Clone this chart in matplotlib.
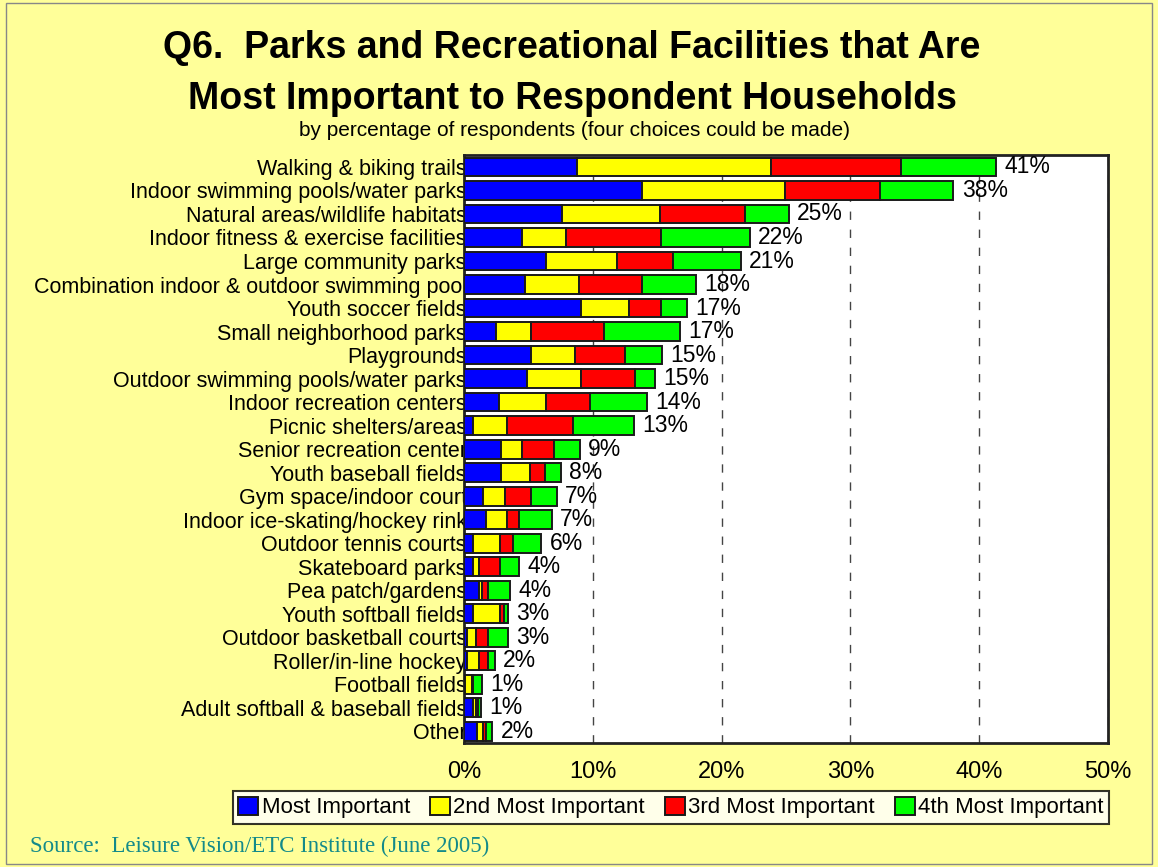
import numpy as np
import matplotlib
matplotlib.use("Agg")
import matplotlib.pyplot as plt
from matplotlib.patches import Rectangle

# ---- data (percent of respondents) ----
categories = [
    "Walking & biking trails",
    "Indoor swimming pools/water parks",
    "Natural areas/wildlife habitats",
    "Indoor fitness & exercise facilities",
    "Large community parks",
    "Combination indoor & outdoor swimming pool",
    "Youth soccer fields",
    "Small neighborhood parks",
    "Playgrounds",
    "Outdoor swimming pools/water parks",
    "Indoor recreation centers",
    "Picnic shelters/areas",
    "Senior recreation center",
    "Youth baseball fields",
    "Gym space/indoor court",
    "Indoor ice-skating/hockey rink",
    "Outdoor tennis courts",
    "Skateboard parks",
    "Pea patch/gardens",
    "Youth softball fields",
    "Outdoor basketball courts",
    "Roller/in-line hockey",
    "Football fields",
    "Adult softball & baseball fields",
    "Other",
]
most = [8.8, 13.8, 7.6, 4.5, 6.4, 4.7, 9.1, 2.5, 5.2, 4.9, 2.7, 0.7, 2.9,
        2.9, 1.5, 1.7, 0.7, 0.7, 1.2, 0.7, 0.2, 0.2, 0.05, 0.7, 1.0]
second = [15.0, 11.1, 7.6, 3.4, 5.5, 4.2, 3.7, 2.7, 3.4, 4.2, 3.7, 2.6, 1.6,
          2.2, 1.7, 1.6, 2.1, 0.5, 0.2, 2.1, 0.7, 1.0, 0.6, 0.2, 0.45]
third = [10.1, 7.4, 6.6, 7.4, 4.3, 4.9, 2.5, 5.7, 3.9, 4.2, 3.4, 5.2, 2.5,
         1.2, 2.0, 1.0, 1.0, 1.6, 0.5, 0.3, 1.0, 0.7, 0.05, 0.2, 0.25]
fourth = [7.4, 5.7, 3.4, 6.9, 5.3, 4.2, 2.0, 5.9, 2.9, 1.5, 4.4, 4.7, 2.0,
          1.2, 2.0, 2.5, 2.2, 1.5, 1.7, 0.3, 1.5, 0.5, 0.7, 0.25, 0.5]
totals = [41, 38, 25, 22, 21, 18, 17, 17, 15, 15, 14, 13, 9, 8, 7, 7, 6, 4,
          4, 3, 3, 2, 1, 1, 2]

series_names = ["Most Important", "2nd Most Important",
                "3rd Most Important", "4th Most Important"]
colors = ["#0000FF", "#FFFF00", "#FF0000", "#00FF00"]

bg = "#FFFF99"
sans = ["Liberation Sans", "DejaVu Sans"]

fig = plt.figure(figsize=(11.58, 8.67), dpi=100, facecolor=bg)
ax = fig.add_axes([0.4007, 0.143, 0.5561, 0.678])
ax.set_facecolor("white")

y = np.arange(len(categories))
left = np.zeros(len(categories))
for vals, c, name in zip([most, second, third, fourth], colors, series_names):
    ax.barh(y, vals, left=left, height=0.8, color=c, edgecolor="#1a1a1a",
            linewidth=1.4, label=name, zorder=3)
    left += np.array(vals)

for yi, end, t in zip(y, left, totals):
    ax.annotate(f"{t}%", (end, yi), xytext=(6, 0), textcoords="offset points",
                va="center", ha="left", fontsize=16.5, family=sans, zorder=4)

ax.set_xlim(0, 50)
ax.set_ylim(len(categories) - 0.5, -0.5)
ax.set_xticks(np.arange(0, 51, 10))
ax.set_xticklabels([f"{v}%" for v in range(0, 51, 10)], fontsize=17,
                   family=sans)
ax.set_yticks(y)
ax.set_yticklabels(categories, fontsize=15.5, family=sans)
ax.tick_params(axis="both", length=0)
ax.tick_params(axis="x", pad=13)
ax.tick_params(axis="y", pad=-2)
ax.xaxis.grid(True, linestyle=(0, (6, 7)), color="#444444", linewidth=1,
              zorder=0)
ax.set_axisbelow(True)
for s in ax.spines.values():
    s.set_linewidth(2)
    s.set_color("#222222")

leg = fig.legend(loc="center", bbox_to_anchor=(0.5795, 0.0686), ncol=4,
                 frameon=True, fancybox=False, edgecolor="black",
                 facecolor="white", handlelength=0.9, handleheight=0.9,
                 handletextpad=0.15, columnspacing=0.9, borderpad=0.25,
                 prop={"family": sans, "size": 16})
leg.get_frame().set_linewidth(1.5)

fig.text(0.494, 0.945, "Q6.  Parks and Recreational Facilities that Are",
         ha="center", va="center", fontsize=27, fontweight="bold",
         family=sans)
fig.text(0.494, 0.886, "Most Important to Respondent Households",
         ha="center", va="center", fontsize=27, fontweight="bold",
         family=sans)
fig.text(0.496, 0.850, "by percentage of respondents (four choices could be made)",
         ha="center", va="center", fontsize=15, family=sans)
fig.text(0.026, 0.017, "Source:  Leisure Vision/ETC Institute (June 2005)",
         ha="left", va="baseline", fontsize=16.5, color="#138a8a",
         family=["Liberation Serif", "DejaVu Serif"])

fig.patches.append(Rectangle((0.005, 0.003), 0.99, 0.994,
                             transform=fig.transFigure, fill=False,
                             edgecolor="#888888", linewidth=1))

fig.savefig("out.png", dpi=100, facecolor=bg)
